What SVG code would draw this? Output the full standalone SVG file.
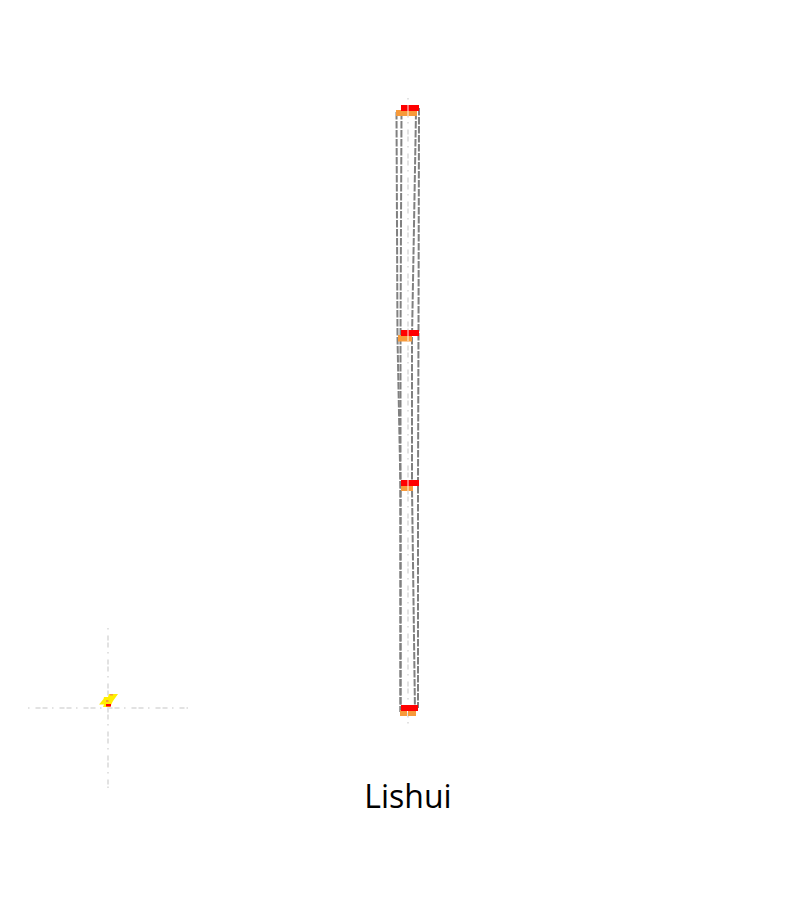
<svg xmlns="http://www.w3.org/2000/svg" width="800" height="900" viewBox="0 0 800 900">
<style>
.rail{fill:none;stroke:#808080;stroke-width:2;stroke-dasharray:7.500 1.500}
.axis{fill:none;stroke:#e2e2e2;stroke-width:2;stroke-dasharray:1.500 6 5 2 5 4.500}
.red{fill:#ff0000}.org{fill:#f79a3a}
text{font-family:"Open Sans","Noto Sans","Liberation Sans",sans-serif;font-size:32px;fill:#000}
</style>
<rect width="800" height="900" fill="#fff"/>
<g id="connectors">
<path class="axis" d="M408 98V724"/>
<path class="rail" d="M396.500 112L397.500 338L400.500 488V712"/>
<path class="rail" d="M401.500 112L400.500 338V488L400.500 712"/>
<path class="rail" d="M416 112L412 338V488L415 712"/>
<path class="rail" d="M419 108L418.500 332L418 483V708"/>
</g>
<g id="station-1"><rect class="org" x="396" y="110" width="21" height="6"/><rect class="red" x="401" y="105" width="18" height="6"/><rect x="407" y="105" width="2" height="11" fill="#fff" opacity=".45"/></g>
<g id="station-2"><rect class="org" x="398" y="335" width="14" height="6.500"/><rect class="red" x="401" y="330" width="18" height="6"/><rect x="407" y="330" width="2" height="11" fill="#fff" opacity=".45"/></g>
<g id="station-3"><rect class="org" x="401" y="485" width="12" height="6"/><rect class="red" x="401" y="480" width="18" height="6"/><rect x="407" y="480" width="2" height="11" fill="#fff" opacity=".45"/></g>
<g id="station-4"><rect class="org" x="400" y="710" width="7" height="6"/><rect class="org" x="408" y="710" width="8" height="6"/><rect class="red" x="401" y="705" width="17" height="6"/></g>
<g id="compass">
<path class="axis" d="M28 708H188"/>
<path class="axis" d="M108 628V788"/>
<path d="M109 694H118L113 701L110 707H103L104 704.500H99L103.500 699L104 697H108Z" fill="#ffee00"/>
<rect x="106" y="704" width="5" height="2.500" class="red"/>
<rect x="110" y="694" width="3" height="1.500" class="org"/>
<rect x="106" y="700" width="2.500" height="2" class="org"/>
</g>
<g id="title"><text x="408" y="808" text-anchor="middle">Lishui</text></g>
</svg>
